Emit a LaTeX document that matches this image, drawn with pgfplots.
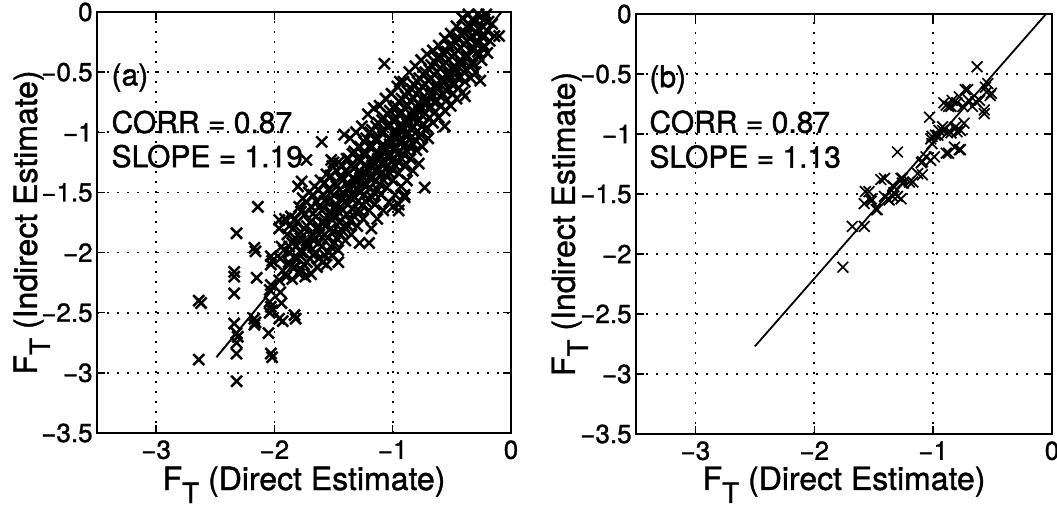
\documentclass[border=0pt]{standalone}
\usepackage{fontspec}
\setmainfont{TeX Gyre Heros}[FakeBold=1.2]
\usepackage{pgfplots}
\usepackage{pgfplotstable}
\pgfplotsset{compat=1.18}

\pgfplotstableread{
x y
-2.64 -2.89
-2.64 -2.40
-2.62 -2.42
-2.32 -3.07
-2.32 -1.84
-2.34 -2.16
-2.34 -2.20
-2.34 -2.34
-2.34 -2.59
-2.32 -2.67
-2.31 -2.70
-2.32 -2.75
-2.32 -2.84
-2.14 -1.62
-2.17 -1.96
-2.16 -1.99
-2.15 -2.21
-2.17 -2.55
-2.17 -2.60
-2.16 -2.58
-2.03 -2.03
-2.03 -2.10
-2.02 -2.07
-2.03 -2.27
-2.04 -2.31
-2.04 -2.41
-2.03 -2.45
-2.02 -2.48
-2.04 -2.50
-2.05 -2.67
-2.03 -2.84
-2.02 -2.87
-1.96 -2.23
-1.95 -2.33
-1.94 -2.42
-1.93 -2.57
-1.96 -2.55
-1.83 -2.52
-1.82 -2.55
-1.60 -1.08
-1.52 -1.23
-1.50 -1.25
-1.80 -1.45
-1.77 -1.41
-1.73 -1.23
-1.07 -0.43
-0.94 -0.58
-0.26 -0.57
-0.10 -0.20
-0.90 -1.54
-0.95 -1.65
-0.73 -1.46
-0.56 -0.95
-0.39 -0.70
-1.20 -1.92
-1.46 -2.08
-1.96 -1.73
-1.96 -1.80
-1.94 -1.95
-1.95 -2.05
-1.93 -2.15
-1.91 -1.72
-1.89 -1.85
-1.92 -1.98
-1.88 -2.08
-1.90 -2.20
-1.86 -1.70
-1.84 -1.80
-1.85 -1.92
-1.87 -2.00
-1.83 -2.12
-1.85 -2.22
-1.79 -1.62
-1.81 -1.75
-1.78 -1.88
-1.82 -1.95
-1.80 -2.05
-1.79 -2.18
-1.76 -1.55
-1.74 -1.68
-1.75 -1.80
-1.73 -1.90
-1.77 -2.00
-1.75 -2.10
-1.74 -2.20
-1.71 -1.50
-1.69 -1.62
-1.70 -1.75
-1.68 -1.85
-1.72 -1.95
-1.70 -2.05
-1.69 -2.18
-1.66 -1.45
-1.64 -1.58
-1.65 -1.70
-1.63 -1.80
-1.67 -1.90
-1.65 -2.00
-1.64 -2.12
-1.61 -1.40
-1.59 -1.52
-1.60 -1.65
-1.58 -1.75
-1.62 -1.85
-1.60 -1.95
-1.59 -2.08
-1.56 -1.35
-1.54 -1.48
-1.55 -1.58
-1.53 -1.68
-1.57 -1.78
-1.55 -1.88
-1.54 -2.00
-1.56 -2.10
-1.51 -1.28
-1.49 -1.42
-1.50 -1.52
-1.48 -1.62
-1.52 -1.72
-1.50 -1.82
-1.49 -1.92
-1.51 -2.02
-1.46 -1.25
-1.44 -1.38
-1.45 -1.48
-1.43 -1.56
-1.47 -1.65
-1.45 -1.75
-1.44 -1.85
-1.46 -1.98
-1.41 -1.02
-1.39 -1.22
-1.40 -1.32
-1.38 -1.42
-1.42 -1.50
-1.40 -1.58
-1.39 -1.68
-1.41 -1.78
-1.40 -1.90
-1.36 -1.05
-1.34 -1.18
-1.35 -1.28
-1.33 -1.38
-1.37 -1.46
-1.35 -1.55
-1.34 -1.64
-1.36 -1.74
-1.35 -1.85
-1.31 -1.00
-1.29 -1.12
-1.30 -1.22
-1.28 -1.32
-1.32 -1.40
-1.30 -1.48
-1.29 -1.57
-1.31 -1.66
-1.30 -1.78
-1.28 -1.92
-1.26 -0.95
-1.24 -1.08
-1.25 -1.18
-1.23 -1.27
-1.27 -1.35
-1.25 -1.43
-1.24 -1.52
-1.26 -1.61
-1.25 -1.72
-1.21 -0.85
-1.19 -1.00
-1.20 -1.12
-1.18 -1.22
-1.22 -1.30
-1.20 -1.38
-1.19 -1.46
-1.21 -1.55
-1.20 -1.65
-1.18 -1.80
-1.16 -0.80
-1.14 -0.95
-1.15 -1.06
-1.13 -1.16
-1.17 -1.24
-1.15 -1.32
-1.14 -1.40
-1.16 -1.50
-1.15 -1.60
-1.13 -1.72
-1.11 -0.78
-1.09 -0.90
-1.10 -1.00
-1.08 -1.10
-1.12 -1.18
-1.10 -1.26
-1.09 -1.34
-1.11 -1.43
-1.10 -1.52
-1.08 -1.65
-1.06 -0.72
-1.04 -0.85
-1.05 -0.95
-1.03 -1.05
-1.07 -1.12
-1.05 -1.20
-1.04 -1.28
-1.06 -1.36
-1.05 -1.46
-1.03 -1.58
-1.01 -0.68
-0.99 -0.80
-1.00 -0.90
-0.98 -0.98
-1.02 -1.06
-1.00 -1.14
-0.99 -1.22
-1.01 -1.30
-1.00 -1.40
-0.98 -1.52
-1.00 -1.62
-0.96 -0.62
-0.94 -0.75
-0.95 -0.85
-0.93 -0.93
-0.97 -1.00
-0.95 -1.08
-0.94 -1.16
-0.96 -1.24
-0.95 -1.34
-0.93 -1.45
-0.95 -1.60
-0.91 -0.58
-0.89 -0.70
-0.90 -0.80
-0.88 -0.88
-0.92 -0.95
-0.90 -1.02
-0.89 -1.10
-0.91 -1.18
-0.90 -1.28
-0.88 -1.40
-0.90 -1.52
-0.86 -0.50
-0.84 -0.64
-0.85 -0.74
-0.83 -0.82
-0.87 -0.90
-0.85 -0.97
-0.84 -1.04
-0.86 -1.12
-0.85 -1.22
-0.83 -1.32
-0.81 -0.45
-0.79 -0.58
-0.80 -0.68
-0.78 -0.76
-0.82 -0.84
-0.80 -0.92
-0.79 -0.99
-0.81 -1.06
-0.80 -1.15
-0.78 -1.26
-0.76 -0.40
-0.74 -0.52
-0.75 -0.62
-0.73 -0.70
-0.77 -0.78
-0.75 -0.86
-0.74 -0.94
-0.76 -1.02
-0.75 -1.12
-0.71 -0.35
-0.69 -0.48
-0.70 -0.57
-0.68 -0.65
-0.72 -0.73
-0.70 -0.80
-0.69 -0.88
-0.71 -0.96
-0.70 -1.05
-0.66 -0.32
-0.64 -0.42
-0.65 -0.52
-0.63 -0.60
-0.67 -0.68
-0.65 -0.75
-0.64 -0.83
-0.66 -0.92
-0.61 -0.28
-0.59 -0.38
-0.60 -0.47
-0.58 -0.55
-0.62 -0.62
-0.60 -0.70
-0.59 -0.78
-0.61 -0.88
-0.56 -0.22
-0.54 -0.33
-0.55 -0.42
-0.53 -0.50
-0.57 -0.57
-0.55 -0.65
-0.54 -0.73
-0.56 -0.82
-0.51 -0.18
-0.49 -0.28
-0.50 -0.37
-0.48 -0.45
-0.52 -0.52
-0.50 -0.60
-0.49 -0.68
-0.51 -0.78
-0.46 -0.12
-0.44 -0.22
-0.45 -0.32
-0.43 -0.40
-0.47 -0.47
-0.45 -0.55
-0.44 -0.63
-0.46 -0.72
-0.41 -0.05
-0.39 -0.17
-0.40 -0.27
-0.38 -0.35
-0.42 -0.42
-0.40 -0.50
-0.39 -0.58
-0.41 -0.67
-0.36 -0.02
-0.34 -0.12
-0.35 -0.22
-0.33 -0.30
-0.37 -0.37
-0.35 -0.45
-0.34 -0.55
-0.31 -0.08
-0.29 -0.18
-0.30 -0.26
-0.28 -0.33
-0.32 -0.42
-0.30 -0.50
-0.26 -0.04
-0.24 -0.12
-0.25 -0.20
-0.23 -0.30
-0.25 -0.40
-0.21 -0.02
-0.19 -0.08
-0.20 -0.16
-0.18 -0.24
-0.20 -0.34
-0.16 -0.10
-0.14 -0.20
-1.875 -1.78
-1.875 -1.95
-1.875 -2.10
-1.825 -1.72
-1.825 -1.88
-1.825 -2.05
-1.775 -1.66
-1.775 -1.83
-1.775 -1.98
-1.775 -2.14
-1.725 -1.58
-1.725 -1.78
-1.725 -1.92
-1.725 -2.08
-1.675 -1.52
-1.675 -1.68
-1.675 -1.86
-1.675 -2.02
-1.625 -1.48
-1.625 -1.62
-1.625 -1.78
-1.625 -1.92
-1.625 -2.05
-1.575 -1.42
-1.575 -1.57
-1.575 -1.72
-1.575 -1.85
-1.575 -2.02
-1.525 -1.36
-1.525 -1.50
-1.525 -1.66
-1.525 -1.80
-1.525 -1.95
-1.475 -1.32
-1.475 -1.45
-1.475 -1.60
-1.475 -1.70
-1.475 -1.88
-1.425 -1.28
-1.425 -1.40
-1.425 -1.54
-1.425 -1.64
-1.425 -1.82
-1.375 -1.22
-1.375 -1.34
-1.375 -1.48
-1.375 -1.60
-1.375 -1.78
-1.325 -1.16
-1.325 -1.30
-1.325 -1.44
-1.325 -1.54
-1.325 -1.70
-1.275 -1.12
-1.275 -1.24
-1.275 -1.38
-1.275 -1.50
-1.275 -1.66
-1.225 -1.05
-1.225 -1.18
-1.225 -1.34
-1.225 -1.44
-1.225 -1.58
-1.175 -0.98
-1.175 -1.12
-1.175 -1.28
-1.175 -1.38
-1.175 -1.54
-1.125 -0.92
-1.125 -1.06
-1.125 -1.22
-1.125 -1.32
-1.125 -1.48
-1.075 -0.88
-1.075 -1.00
-1.075 -1.16
-1.075 -1.26
-1.075 -1.40
-1.025 -0.82
-1.025 -0.94
-1.025 -1.10
-1.025 -1.20
-1.025 -1.34
-0.975 -0.78
-0.975 -0.90
-0.975 -1.04
-0.975 -1.14
-0.975 -1.28
-0.925 -0.72
-0.925 -0.84
-0.925 -0.98
-0.925 -1.08
-0.925 -1.22
-0.875 -0.66
-0.875 -0.78
-0.875 -0.93
-0.875 -1.02
-0.875 -1.16
-0.825 -0.60
-0.825 -0.72
-0.825 -0.88
-0.825 -0.96
-0.825 -1.10
-0.775 -0.55
-0.775 -0.66
-0.775 -0.82
-0.775 -0.90
-0.775 -1.04
-0.725 -0.50
-0.725 -0.60
-0.725 -0.76
-0.725 -0.84
-0.725 -0.98
-0.675 -0.44
-0.675 -0.55
-0.675 -0.70
-0.675 -0.79
-0.625 -0.38
-0.625 -0.50
-0.625 -0.64
-0.625 -0.74
-0.575 -0.34
-0.575 -0.44
-0.575 -0.58
-0.575 -0.68
-0.525 -0.28
-0.525 -0.40
-0.525 -0.54
-0.525 -0.64
-0.475 -0.24
-0.475 -0.35
-0.475 -0.50
-0.475 -0.60
-0.425 -0.18
-0.425 -0.30
-0.425 -0.44
-0.425 -0.54
-0.375 -0.12
-0.375 -0.24
-0.375 -0.38
-0.375 -0.48
-0.325 -0.06
-0.325 -0.20
-0.325 -0.32
-0.325 -0.44
-0.275 -0.02
-0.275 -0.14
-0.275 -0.26
-0.275 -0.36
-0.225 -0.06
-0.225 -0.20
-0.225 -0.28
}\dataA

\pgfplotstableread{
x y
-1.76 -2.11
-1.68 -1.77
-1.57 -1.48
-1.58 -1.58
-1.52 -1.54
-1.48 -1.63
-1.44 -1.38
-1.41 -1.52
-1.37 -1.55
-1.34 -1.43
-1.33 -1.49
-1.30 -1.52
-1.27 -1.37
-1.26 -1.41
-1.30 -1.15
-1.20 -1.40
-1.13 -1.33
-1.10 -1.24
-1.06 -1.19
-1.02 -1.22
-1.03 -0.86
-1.02 -1.04
-1.01 -1.08
-0.98 -1.01
-0.95 -0.97
-0.92 -0.94
-0.91 -0.74
-0.89 -1.16
-0.87 -0.77
-0.85 -0.99
-0.84 -0.72
-0.82 -1.11
-0.81 -0.94
-0.80 -0.98
-0.78 -1.13
-0.78 -0.69
-0.75 -0.77
-0.73 -0.63
-0.70 -0.72
-0.67 -0.77
-0.63 -0.44
-0.61 -0.72
-0.57 -0.83
-0.56 -0.61
-0.55 -0.65
-0.52 -0.68
-0.51 -0.66
-0.89 -0.76
-0.85 -0.77
-0.80 -0.74
-0.71 -0.63
-0.64 -0.73
-0.57 -0.80
-0.54 -0.58
-1.01 -1.02
-0.96 -1.01
-0.92 -0.97
-0.88 -0.99
-0.82 -0.95
-0.77 -0.97
-0.74 -0.91
-0.77 -1.13
-0.87 -1.16
-0.99 -1.19
-1.09 -1.23
-1.09 -1.34
-1.17 -1.40
-1.26 -1.37
-1.25 -1.41
-1.41 -1.37
-1.33 -1.44
-1.54 -1.48
-1.52 -1.56
-1.47 -1.63
-1.38 -1.54
-1.34 -1.52
-1.27 -1.54
-1.58 -1.77
}\dataB

\newcommand{\tklab}[1]{{\fontsize{13}{15}\selectfont #1}}

\pgfplotsset{
  mystyle/.style={
    scale only axis,
    xmin=-3.5, xmax=0, ymin=-3.5, ymax=0,
    xtick={-3,-2,-1,0},
    xticklabels={\tklab{−3},\tklab{−2},\tklab{−1},\tklab{0}},
    ytick={-3.5,-3,-2.5,-2,-1.5,-1,-0.5,0},
    yticklabels={\tklab{−3.5},\tklab{−3},\tklab{−2.5},\tklab{−2},\tklab{−1.5},\tklab{−1},\tklab{−0.5},\tklab{0}},
    grid=major,
    major grid style={black, line width=0.8pt, dash pattern=on 0.8pt off 4.2pt},
    tick align=inside,
    major tick length=4pt,
    tick style={black, line width=0.7pt},
    axis line style={black, line width=1pt},
    xticklabel style={yshift=-1.5pt, inner sep=2pt},
    yticklabel style={inner sep=2pt},
    label style={font=\fontsize{16}{18}\selectfont},
    clip=true,
  }
}

\newcommand{\FT}{F\raisebox{-6.5pt}{\fontsize{14}{14}\selectfont T}}

\begin{document}
\begin{tikzpicture}
\begin{axis}[mystyle,
  width=207pt, height=210.5pt,
  at={(0pt,0pt)}, anchor=south west,
  xlabel={\FT\ (Direct Estimate)},
  ylabel={\FT\ (Indirect Estimate)},
  xlabel style={at={(axis description cs:0.5,-0.1354)}, anchor=base},
  ylabel style={at={(axis description cs:-0.145,0.5)}, anchor=base},
]
\addplot[only marks, mark=x, mark size=3.9pt, mark options={line width=1.25pt}] table[x=x,y=y] {\dataA};
\addplot[no marks, black, line width=1pt] coordinates {(-2.49,-2.87) (-0.08,0)};
\node[anchor=base west, font=\fontsize{15}{15}\selectfont, inner sep=0pt] at (axis cs:-3.38,-0.61) {(a)};
\node[anchor=base west, font=\fontsize{15}{15}\selectfont, inner sep=0pt] at (axis cs:-3.38,-1.006) {CORR = 0.87};
\node[anchor=base west, font=\fontsize{15}{15}\selectfont, inner sep=0pt] at (axis cs:-3.38,-1.29) {SLOPE = 1.19};
\end{axis}

\begin{axis}[mystyle,
  width=208pt, height=210pt,
  at={(269.5pt,-0.5pt)}, anchor=south west,
  xlabel={\FT\ (Direct Estimate)},
  ylabel={\FT\ (Indirect Estimate)},
  xlabel style={at={(axis description cs:0.5,-0.133)}, anchor=base},
  ylabel style={at={(axis description cs:-0.147,0.5)}, anchor=base},
]
\addplot[only marks, mark=x, mark size=3.8pt, mark options={line width=0.85pt}] table[x=x,y=y] {\dataB};
\addplot[no marks, black, line width=0.9pt] coordinates {(-2.50,-2.77) (-0.05,0)};
\node[anchor=base west, font=\fontsize{15}{15}\selectfont, inner sep=0pt] at (axis cs:-3.39,-0.61) {(b)};
\node[anchor=base west, font=\fontsize{15}{15}\selectfont, inner sep=0pt] at (axis cs:-3.39,-0.99) {CORR = 0.87};
\node[anchor=base west, font=\fontsize{15}{15}\selectfont, inner sep=0pt] at (axis cs:-3.39,-1.28) {SLOPE = 1.13};
\end{axis}

\pgfresetboundingbox
\path[use as bounding box] (-48.5pt,-37.5pt) rectangle (480pt,216.5pt);
\end{tikzpicture}
\end{document}
